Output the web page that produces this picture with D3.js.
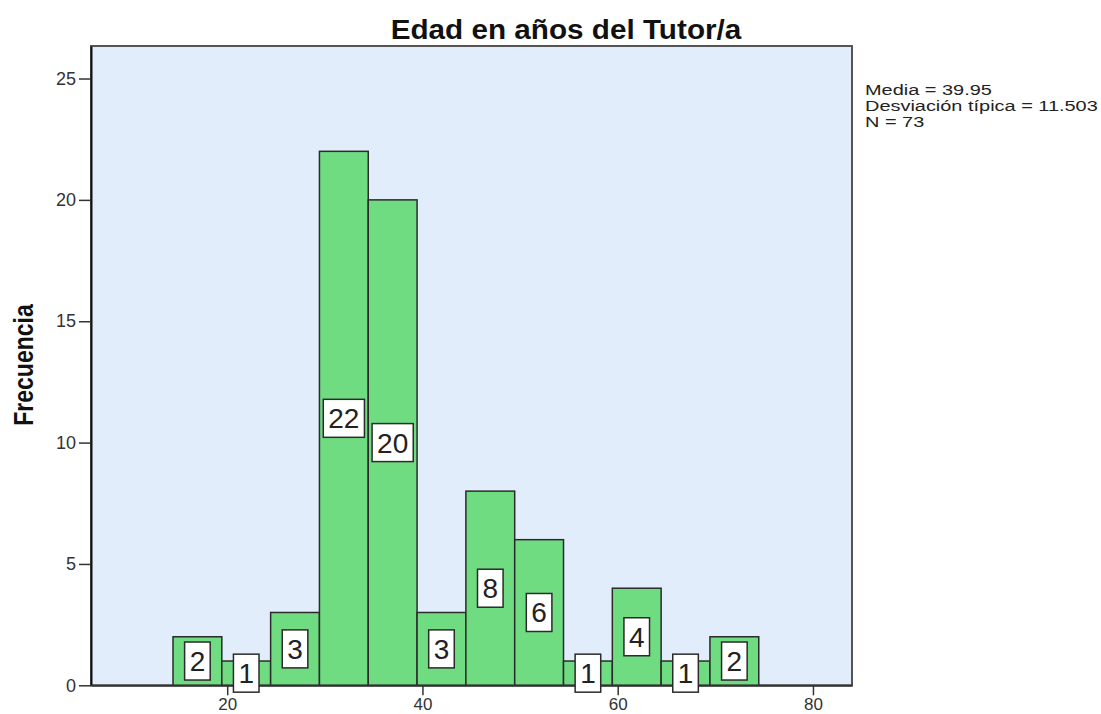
<!DOCTYPE html>
<html>
<head>
<meta charset="utf-8">
<script src="https://cdn.jsdelivr.net/npm/d3@7"></script>
<style>
  body { margin: 0; background: #fff; }
  text { font-family: Arial, "Liberation Sans", sans-serif; }
</style>
</head>
<body>
<div id="chart-area"></div>
<script>
// histogram data
const binStarts = [14.45, 19.45, 24.45, 29.45, 34.45, 39.45, 44.45, 49.45, 54.45, 59.45, 64.45, 69.45]
const binWidth = 5
const counts = [2, 1, 3, 22, 20, 3, 8, 6, 1, 4, 1, 2]
const xTicks = [20, 40, 60, 80]
const yTicks = [0, 5, 10, 15, 20, 25]
const statLines = ["Media = 39.95", "Desviación típica = 11.503", "N = 73"]
const title = "Edad en años del Tutor/a"
const yLabel = "Frecuencia"

const W = 1101, H = 714
const PLOT = { LEFT: 91, RIGHT: 852, TOP: 46, BOTTOM: 685.3 }

const svg = d3.select("#chart-area").append("svg")
  .attr("width", W)
  .attr("height", H)

const x = d3.scaleLinear()
  .domain([6.05, 84])
  .range([PLOT.LEFT, PLOT.RIGHT])

const y = d3.scaleLinear()
  .domain([0, 26.34])
  .range([PLOT.BOTTOM, PLOT.TOP])

// plot background + frame
svg.append("rect")
  .attr("x", PLOT.LEFT)
  .attr("y", PLOT.TOP)
  .attr("width", PLOT.RIGHT - PLOT.LEFT)
  .attr("height", PLOT.BOTTOM - PLOT.TOP)
  .attr("fill", "#e1edfa")
  .attr("stroke", "#555")
  .attr("stroke-width", 2)

const data = counts.map((c, i) => ({ x0: binStarts[i], x1: binStarts[i] + binWidth, n: c }))

svg.append("g").selectAll("rect")
  .data(data)
  .enter().append("rect")
    .attr("x", d => x(d.x0))
    .attr("y", d => y(d.n))
    .attr("width", d => x(d.x1) - x(d.x0))
    .attr("height", d => y(0) - y(d.n))
    .attr("fill", "#70dc82")
    .attr("stroke", "#2b2b2b")
    .attr("stroke-width", 1.5)

// axes
const yAxis = d3.axisLeft(y).tickValues(yTicks).tickSize(12).tickSizeOuter(0).tickPadding(3)
const gy = svg.append("g")
  .attr("transform", `translate(${PLOT.LEFT},0)`)
  .call(yAxis)
gy.select(".domain").attr("stroke", "#111").attr("stroke-width", 2)
gy.selectAll(".tick line").attr("stroke", "#333").attr("stroke-width", 1.5)
gy.selectAll(".tick text")
  .attr("font-size", 18)
  .attr("fill", "#333")
  .attr("font-family", "Arial, 'Liberation Sans', sans-serif")

const xAxis = d3.axisBottom(x).tickValues(xTicks).tickSize(10).tickSizeOuter(0).tickPadding(3)
const gx = svg.append("g")
  .attr("transform", `translate(0,${PLOT.BOTTOM})`)
  .call(xAxis)
gx.select(".domain").attr("stroke", "#333").attr("stroke-width", 2)
gx.selectAll(".tick line").attr("stroke", "#333").attr("stroke-width", 1.5)
gx.selectAll(".tick text")
  .attr("font-size", 17)
  .attr("fill", "#333")
  .attr("font-family", "Arial, 'Liberation Sans', sans-serif")

// count labels in white boxes
const labels = svg.append("g").selectAll("g")
  .data(data)
  .enter().append("g")
    .attr("transform", d => `translate(${(x(d.x0) + x(d.x1)) / 2},${(y(d.n) + y(0)) / 2})`)

labels.each(function (d) {
  const g = d3.select(this)
  const rect = g.append("rect").attr("fill", "#fff").attr("stroke", "#2b2b2b").attr("stroke-width", 1.5)
  const t = g.append("text")
    .attr("text-anchor", "middle")
    .attr("y", 10)
    .attr("font-size", 28)
    .attr("fill", "#222")
    .text(d.n)
  const w = t.node().getComputedTextLength() + 10
  rect.attr("x", -w / 2).attr("y", -19).attr("width", w).attr("height", 38)
})

// title
svg.append("text")
  .attr("transform", "translate(566,39) scale(1.06,1)")
  .attr("text-anchor", "middle")
  .attr("font-size", 28)
  .attr("font-weight", "bold")
  .attr("fill", "#111")
  .text(title)

// y label
svg.append("text")
  .attr("transform", "translate(33,365) rotate(-90) scale(1,1.22)")
  .attr("text-anchor", "middle")
  .attr("font-size", 23)
  .attr("font-weight", "bold")
  .attr("fill", "#111")
  .text(yLabel)

// stats block
svg.append("g").selectAll("text")
  .data(statLines)
  .enter().append("text")
    .attr("transform", (d, i) => `translate(865,${95 + i * 16}) scale(1.33,1)`)
    .attr("font-size", 15)
    .attr("fill", "#222")
    .text(d => d)
</script>
</body>
</html>
